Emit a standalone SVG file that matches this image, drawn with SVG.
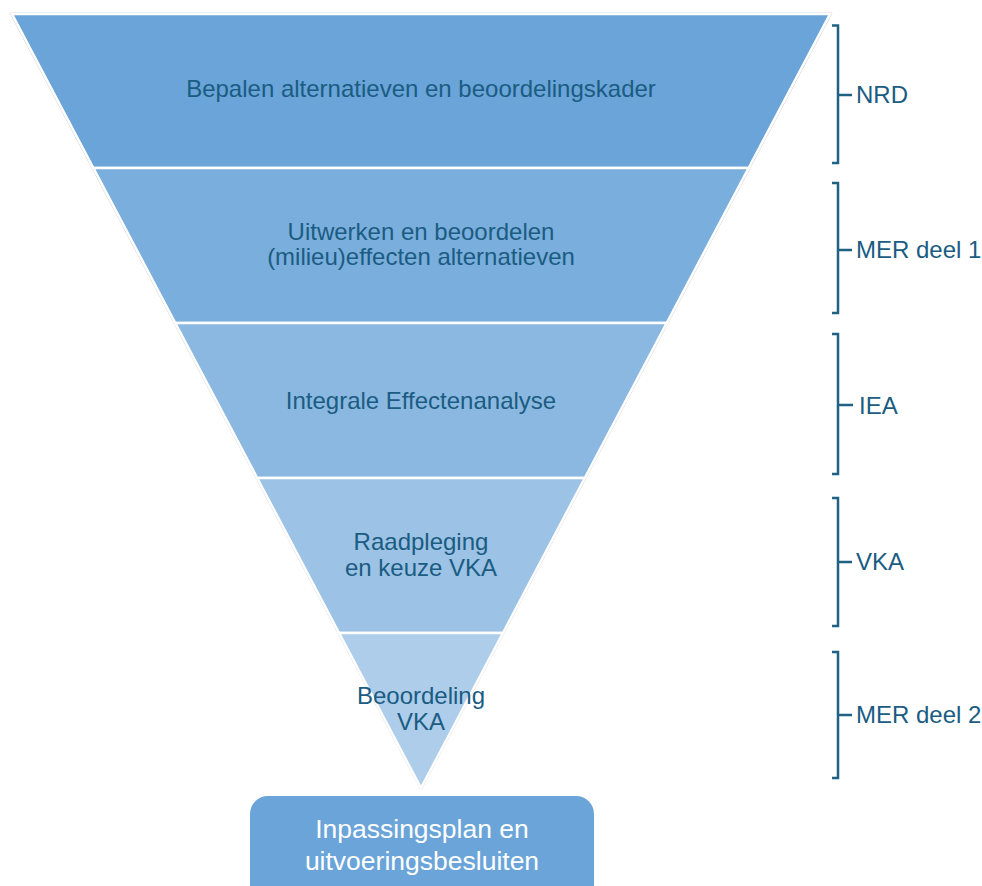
<svg xmlns="http://www.w3.org/2000/svg" width="982" height="886" viewBox="0 0 982 886">
<style>
.band{stroke:#ffffff;stroke-width:2.5;stroke-linejoin:miter}
.lbl{font-family:"Liberation Sans",Arial,sans-serif;font-size:24px;fill:#1a5c82;text-anchor:middle}
.side{font-family:"Liberation Sans",Arial,sans-serif;font-size:24px;fill:#1a5c82}
.br{fill:none;stroke:#1f6283;stroke-width:2.5;stroke-linejoin:miter}
.box{font-family:"Liberation Sans",Arial,sans-serif;font-size:26.5px;fill:#ffffff;text-anchor:middle}
</style>
<rect width="982" height="886" fill="#ffffff"/>
<polygon points="10,13 832,13 421,790" fill="none" stroke="#cfcfcf" stroke-width="1"/>
<g id="band1"><polygon class="band" points="12,14 830,14 748.6,168 93.4,168" fill="#6aa4d8"/><text class="lbl" x="421" y="97">Bepalen alternatieven  en beoordelingskader</text></g>
<g id="band2"><polygon class="band" points="93.4,168 748.6,168 666.7,323 175.3,323" fill="#7aaedc"/><text class="lbl" x="421" y="240">Uitwerken en beoordelen</text><text class="lbl" x="421" y="265">(milieu)effecten alternatieven</text></g>
<g id="band3"><polygon class="band" points="175.3,323 666.7,323 584.8,478 257.2,478" fill="#8bb8e0"/><text class="lbl" x="421" y="409">Integrale Effectenanalyse</text></g>
<g id="band4"><polygon class="band" points="257.2,478 584.8,478 502.9,633 339.1,633" fill="#9cc2e5"/><text class="lbl" x="421" y="550">Raadpleging</text><text class="lbl" x="421" y="576">en keuze VKA</text></g>
<g id="band5"><polygon class="band" points="339.1,633 502.9,633 421,788" fill="#adcdea"/><text class="lbl" x="421" y="704">Beoordeling</text><text class="lbl" x="421" y="730">VKA</text></g>
<g id="result"><rect x="250" y="796" width="344" height="110" rx="18" fill="#6aa4d8"/><text class="box" x="422" y="838">Inpassingsplan en</text><text class="box" x="422" y="870">uitvoeringsbesluiten</text></g>
<g id="connectors">
<path class="br" d="M832,25.5 H838 V163 H832 M838,95 H852"/>
<path class="br" d="M832,183 H838 V313 H832 M838,250 H852"/>
<path class="br" d="M832,334 H838 V474 H832 M838,405 H853"/>
<path class="br" d="M832,498 H838 V626 H832 M838,562 H852"/>
<path class="br" d="M832,652 H838 V778 H832 M838,715 H852"/>
</g>
<g id="lbl-nrd"><text class="side" x="856" y="103">NRD</text></g>
<g id="lbl-mer1"><text class="side" x="856" y="258">MER deel 1</text></g>
<g id="lbl-iea"><text class="side" x="859" y="414">IEA</text></g>
<g id="lbl-vka"><text class="side" x="856" y="570">VKA</text></g>
<g id="lbl-mer2"><text class="side" x="856" y="723">MER deel 2</text></g>
</svg>
